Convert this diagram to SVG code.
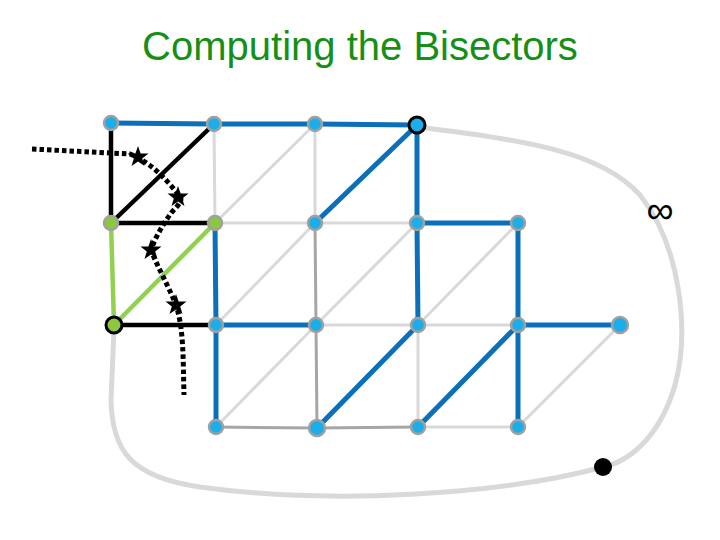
<svg xmlns="http://www.w3.org/2000/svg" width="720" height="540" viewBox="0 0 720 540">
<defs>
<style>
.t{font-family:"Liberation Sans",Arial,sans-serif;fill:#159015;font-size:40px}
.inf{font-family:"Liberation Sans",Arial,sans-serif;fill:#000;font-size:38px}
.bl{stroke:#0B70B9;stroke-width:5;fill:none;stroke-linecap:round}
.bk{stroke:#000;stroke-width:4.5;fill:none;stroke-linecap:round}
.gr{stroke:#92D050;stroke-width:4.5;fill:none;stroke-linecap:round}
.lg{stroke:#D9D9D9;stroke-width:3;fill:none}
.dg{stroke:#A6A6A6;stroke-width:3;fill:none}
.outer{stroke:#D9D9D9;stroke-width:5;fill:none}
.dot{stroke:#000;stroke-width:5;fill:none;stroke-dasharray:4.5 3}
.n{fill:#1BAEEA;stroke:#A0A0A0;stroke-width:2.5}
.g{fill:#8DC63F;stroke:#A0A0A0;stroke-width:2.5}
.star{fill:#000}
</style>
<path id="st" d="M0,-11 L2.6,-3.6 L10.5,-3.4 L4.2,1.4 L6.5,8.9 L0,4.4 L-6.5,8.9 L-4.2,1.4 L-10.5,-3.4 L-2.6,-3.6 Z"/>
</defs>
<rect width="720" height="540" fill="#fff"/>
<text class="t" x="360" y="60" text-anchor="middle">Computing the Bisectors</text>
<g id="connectors">
<path class="outer" d="M417,127 C520,140 600,150 640,195 C680,245 690,330 675,385 C662,430 635,460 603,467 C500,495 330,505 200,487 C130,477 112,450 111,400 L114,330"/>
<line class="lg" x1="214" y1="124" x2="215" y2="223"/>
<line class="lg" x1="315" y1="124" x2="215" y2="223"/>
<line class="lg" x1="315" y1="124" x2="315" y2="223"/>
<line class="lg" x1="215" y1="223" x2="315" y2="223"/>
<line class="lg" x1="315" y1="223" x2="417" y2="223"/>
<line class="lg" x1="315" y1="223" x2="216" y2="325"/>
<line class="dg" x1="315" y1="223" x2="316" y2="325"/>
<line class="lg" x1="417" y1="223" x2="316" y2="325"/>
<line class="lg" x1="518" y1="223" x2="418" y2="325"/>
<line class="lg" x1="316" y1="325" x2="418" y2="325"/>
<line class="lg" x1="418" y1="325" x2="518" y2="325"/>
<line class="lg" x1="316" y1="325" x2="216" y2="427"/>
<line class="dg" x1="316" y1="325" x2="317" y2="428"/>
<line class="lg" x1="418" y1="325" x2="418" y2="427"/>
<line class="lg" x1="620" y1="325" x2="518" y2="427"/>
<line class="dg" x1="216" y1="427" x2="317" y2="428"/>
<line class="dg" x1="317" y1="428" x2="418" y2="427"/>
<line class="lg" x1="418" y1="427" x2="518" y2="427"/>
<line class="bl" x1="111" y1="123" x2="214" y2="124"/>
<line class="bl" x1="214" y1="124" x2="315" y2="124"/>
<line class="bl" x1="315" y1="124" x2="417" y2="125"/>
<line class="bl" x1="417" y1="125" x2="315" y2="223"/>
<line class="bl" x1="417" y1="125" x2="417" y2="223"/>
<line class="bl" x1="417" y1="223" x2="518" y2="223"/>
<line class="bl" x1="215" y1="223" x2="216" y2="325"/>
<line class="bl" x1="417" y1="223" x2="418" y2="325"/>
<line class="bl" x1="518" y1="223" x2="518" y2="325"/>
<line class="bl" x1="216" y1="325" x2="316" y2="325"/>
<line class="bl" x1="518" y1="325" x2="620" y2="325"/>
<line class="bl" x1="216" y1="325" x2="216" y2="427"/>
<line class="bl" x1="418" y1="325" x2="317" y2="428"/>
<line class="bl" x1="518" y1="325" x2="418" y2="427"/>
<line class="bl" x1="518" y1="325" x2="518" y2="427"/>
<line class="bk" x1="111" y1="123" x2="111" y2="223"/>
<line class="bk" x1="214" y1="124" x2="111" y2="223"/>
<line class="bk" x1="111" y1="223" x2="215" y2="223"/>
<line class="bk" x1="114" y1="325" x2="216" y2="325"/>
<line class="gr" x1="111" y1="223" x2="114" y2="325"/>
<line class="gr" x1="215" y1="223" x2="114" y2="325"/>
<path class="dot" d="M32,149 L130,154 C150,162 165,178 178,194 C185,200 178,205 172,212 C163,224 155,238 151,250 C158,268 168,285 176,305 C184,330 183,360 184,395"/>
</g>
<g id="stars">
<use href="#st" x="138" y="157" class="star"/>
<use href="#st" x="178" y="197" class="star"/>
<use href="#st" x="151" y="250" class="star"/>
<use href="#st" x="176" y="305" class="star"/>
</g>
<g id="A0"><circle class="n" cx="111" cy="123" r="7"/></g>
<g id="A1"><circle class="n" cx="214" cy="124" r="7"/></g>
<g id="A2"><circle class="n" cx="315" cy="124" r="7"/></g>
<g id="A3"><circle cx="417" cy="125" r="8" fill="#1BAEEA" stroke="#000" stroke-width="3"/></g>
<g id="B0"><circle class="g" cx="111" cy="223" r="7"/></g>
<g id="B1"><circle class="g" cx="215" cy="223" r="7"/></g>
<g id="B2"><circle class="n" cx="315" cy="223" r="7"/></g>
<g id="B3"><circle class="n" cx="417" cy="223" r="7"/></g>
<g id="B4"><circle class="n" cx="518" cy="223" r="7"/></g>
<g id="C0"><circle cx="114" cy="325" r="8" fill="#8DC63F" stroke="#000" stroke-width="3"/></g>
<g id="C1"><circle class="n" cx="216" cy="325" r="7"/></g>
<g id="C2"><circle class="n" cx="316" cy="325" r="7"/></g>
<g id="C3"><circle class="n" cx="418" cy="325" r="7"/></g>
<g id="C4"><circle class="n" cx="518" cy="325" r="7"/></g>
<g id="C5"><circle class="n" cx="620" cy="325" r="8"/></g>
<g id="D1"><circle class="n" cx="216" cy="427" r="7"/></g>
<g id="D2"><circle class="n" cx="317" cy="428" r="8"/></g>
<g id="D3"><circle class="n" cx="418" cy="427" r="7"/></g>
<g id="D4"><circle class="n" cx="518" cy="427" r="7"/></g>
<g id="inf"><text class="inf" x="660" y="223" text-anchor="middle">∞</text></g>
<g id="sink"><circle cx="603" cy="467" r="9" fill="#000"/></g>
</svg>
